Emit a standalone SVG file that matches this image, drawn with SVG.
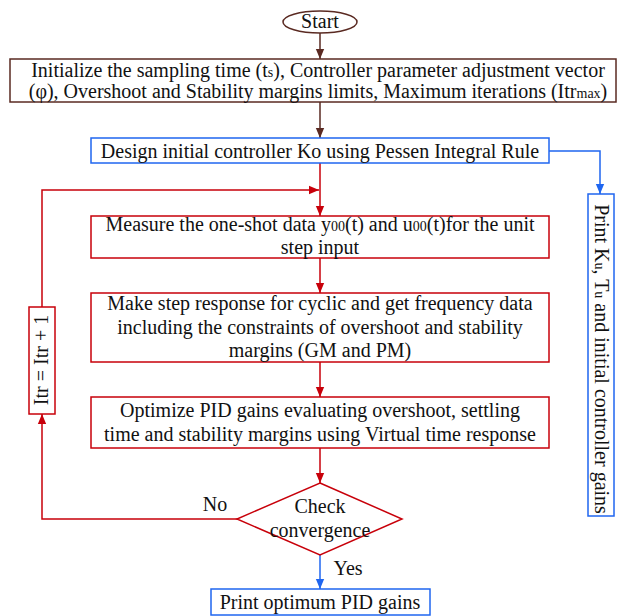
<svg xmlns="http://www.w3.org/2000/svg" width="618" height="616" viewBox="0 0 618 616" font-family="'Liberation Serif', 'Times New Roman', serif">
<defs>
<style>
text{font-family:'Liberation Serif','Times New Roman',serif;font-size:20px;fill:#111;text-anchor:middle}
.sub{font-size:14px}
.br{fill:#fff;stroke:#5a2a22;stroke-width:1.5}
.rd{fill:#fff;stroke:#c8000a;stroke-width:1.5}
.bl{fill:#fff;stroke:#1f66f0;stroke-width:1.5}
.lbr{fill:none;stroke:#5a2a22;stroke-width:1.5}
.lrd{fill:none;stroke:#c8000a;stroke-width:1.5}
.lbl{fill:none;stroke:#1f66f0;stroke-width:1.5}
</style>
<marker id="ab" markerWidth="10" markerHeight="14" refX="12" refY="5" orient="auto" markerUnits="userSpaceOnUse" viewBox="0 0 12 10"><path d="M0,0 L12,5 L0,10 Z" fill="#5a2a22"/></marker>
<marker id="ar" markerWidth="10" markerHeight="14" refX="12" refY="5" orient="auto" markerUnits="userSpaceOnUse" viewBox="0 0 12 10"><path d="M0,0 L12,5 L0,10 Z" fill="#c8000a"/></marker>
<marker id="al" markerWidth="10" markerHeight="14" refX="12" refY="5" orient="auto" markerUnits="userSpaceOnUse" viewBox="0 0 12 10"><path d="M0,0 L12,5 L0,10 Z" fill="#1f66f0"/></marker>
</defs>
<g id="connectors">
<path class="lbr" d="M320,33 V59" marker-end="url(#ab)"/>
<path class="lbr" d="M320,102 V138" marker-end="url(#ab)"/>
<path class="lbl" d="M549,151 H600 V194" marker-end="url(#al)"/>
<path class="lrd" d="M320,163 V216" marker-end="url(#ar)"/>
<path class="lrd" d="M42,307 V190 H319" marker-end="url(#ar)"/>
<path class="lrd" d="M320,258 V293" marker-end="url(#ar)"/>
<path class="lrd" d="M320,362 V397" marker-end="url(#ar)"/>
<path class="lrd" d="M320,448 V483" marker-end="url(#ar)"/>
<path class="lrd" d="M237,519 H42 V414" marker-end="url(#ar)"/>
<path class="lbl" d="M320,555 V589" marker-end="url(#al)"/>
<text x="215" y="511">No</text>
<text x="348" y="575">Yes</text>
</g>
<g id="start">
<ellipse class="br" cx="320" cy="22" rx="37" ry="11"/>
<text x="320" y="28">Start</text>
</g>
<g id="init">
<rect class="br" x="10" y="59" width="606" height="43"/>
<text x="318" y="77">Initialize the sampling time (t<tspan class="sub">s</tspan>), Controller parameter adjustment vector</text>
<text x="318" y="98">(φ), Overshoot and Stability margins limits, Maximum iterations (Itr<tspan class="sub">max</tspan>)</text>
</g>
<g id="design">
<rect class="bl" x="91" y="138" width="458" height="25"/>
<text x="320" y="158">Design initial controller Ko using Pessen Integral Rule</text>
</g>
<g id="printk">
<rect class="bl" x="588" y="194" width="26" height="322"/>
<text transform="translate(601,359) rotate(90)" y="6">Print K<tspan class="sub">u</tspan>, T<tspan class="sub">u</tspan> and initial controller gains</text>
</g>
<g id="measure">
<rect class="rd" x="91" y="216" width="458" height="42"/>
<text x="320" y="231">Measure the one-shot data y<tspan class="sub">00</tspan>(t) and u<tspan class="sub">00</tspan>(t)for the unit</text>
<text x="320" y="254">step input</text>
</g>
<g id="makestep">
<rect class="rd" x="91" y="293" width="458" height="69"/>
<text x="320" y="310">Make step response for cyclic and get frequency data</text>
<text x="320" y="334">including the constraints of overshoot and stability</text>
<text x="320" y="357">margins (GM and PM)</text>
</g>
<g id="optimize">
<rect class="rd" x="91" y="397" width="458" height="51"/>
<text x="320" y="417">Optimize PID gains evaluating overshoot, settling</text>
<text x="320" y="441">time and stability margins using Virtual time response</text>
</g>
<g id="itr">
<rect class="rd" x="29" y="307" width="26" height="107"/>
<text transform="translate(42,360) rotate(-90)" y="6">Itr = Itr + 1</text>
</g>
<g id="check">
<polygon class="rd" points="320,483 402,519 320,555 237,519" style="fill:none"/>
<text x="320" y="513">Check</text>
<text x="320" y="537">convergence</text>
</g>
<g id="printpid">
<rect class="bl" x="211" y="589" width="219" height="26"/>
<text x="320" y="609">Print optimum PID gains</text>
</g>
</svg>
